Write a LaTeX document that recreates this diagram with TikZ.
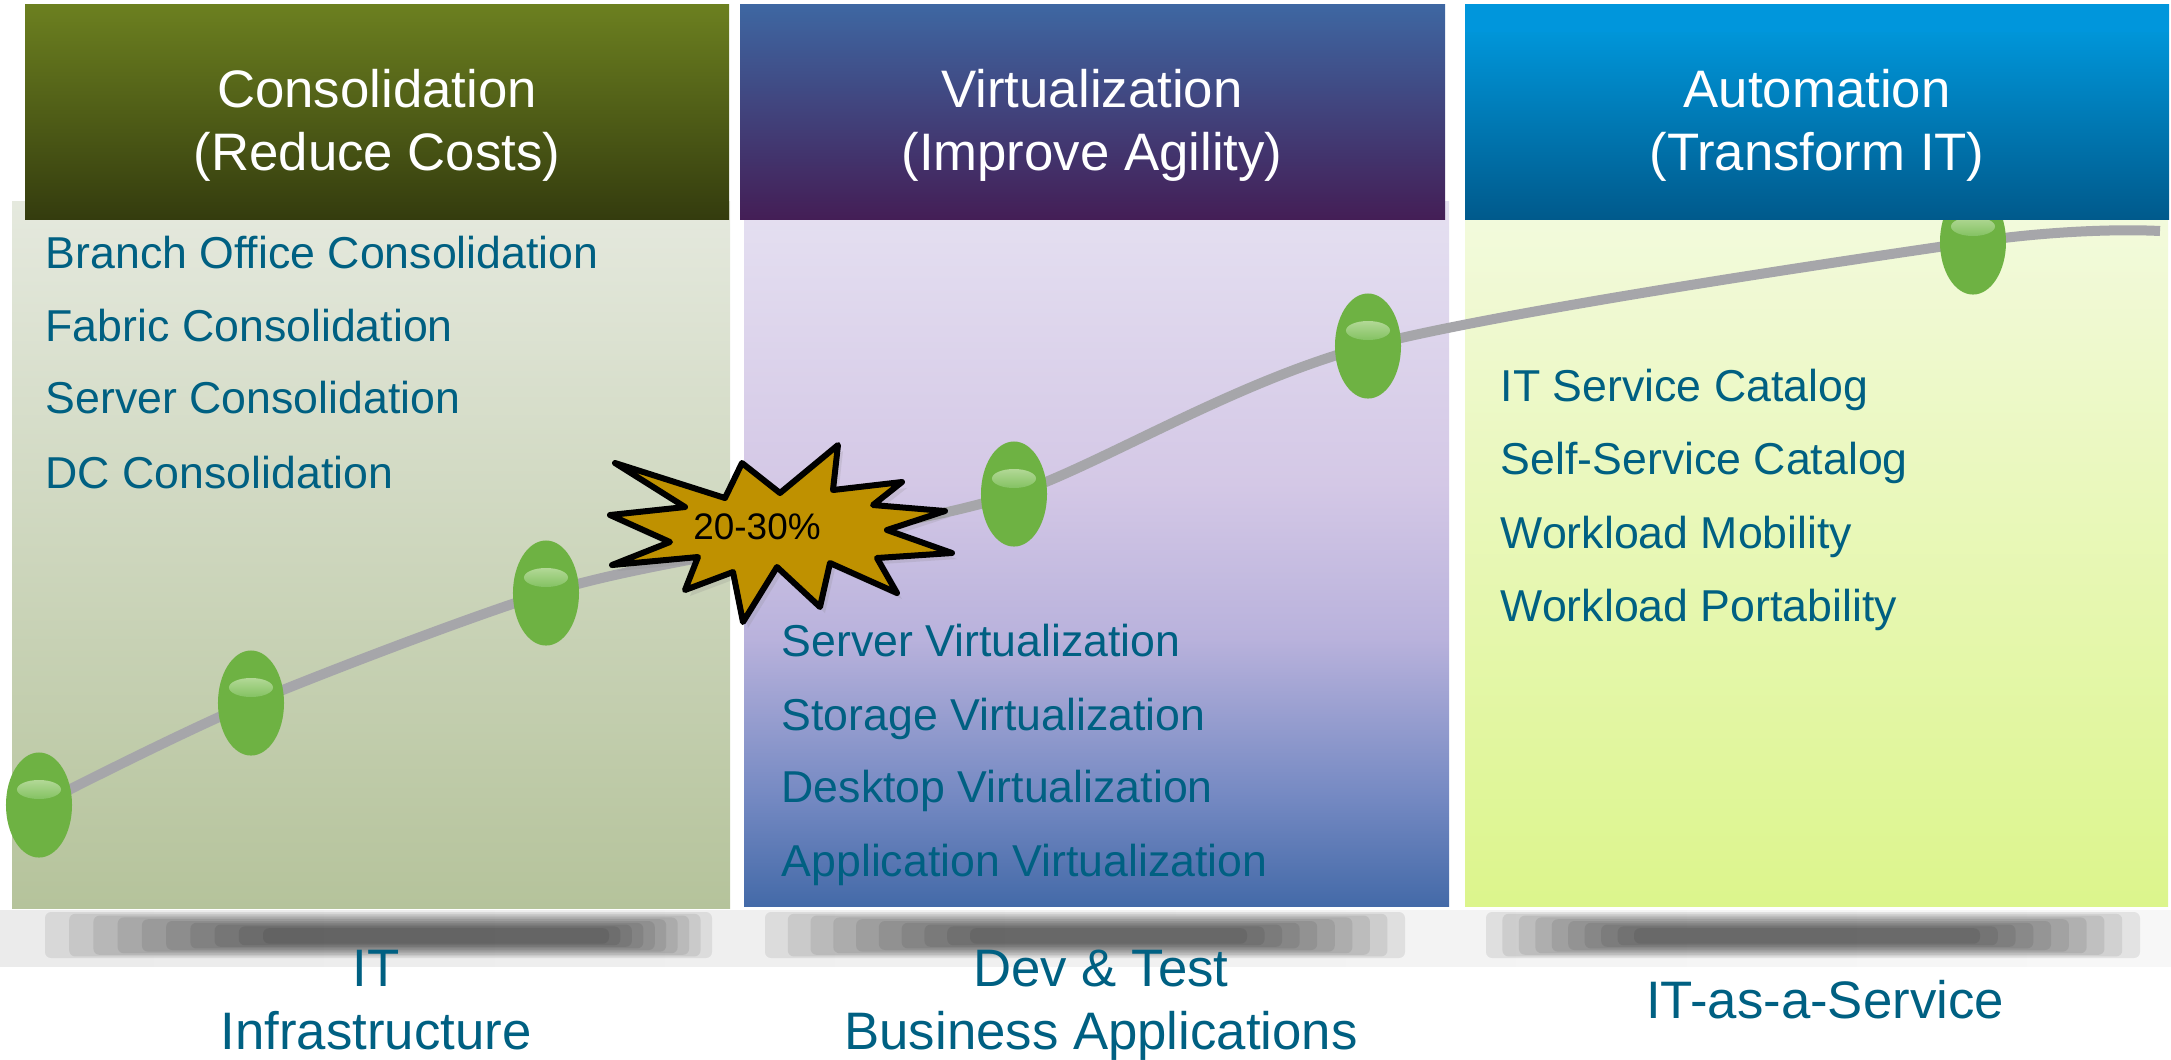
\documentclass[tikz,border=0pt]{standalone}
\usepackage{fontspec}
\setmainfont{Liberation Sans}
\usetikzlibrary{shapes.geometric,shadows}

\definecolor{txtblue}{RGB}{0,96,130}
\definecolor{curvegray}{RGB}{166,166,170}
\definecolor{beadgreen}{RGB}{110,178,67}
\definecolor{beadlightA}{RGB}{178,216,150}
\definecolor{beadlightB}{RGB}{132,194,98}
\definecolor{burstgold}{RGB}{191,145,0}
% headers
\definecolor{consTop}{RGB}{108,128,32}
\definecolor{consMid}{RGB}{92,108,27}
\definecolor{consBot}{RGB}{52,60,14}
\definecolor{virtTop}{RGB}{62,103,162}
\definecolor{virtMid}{RGB}{62,78,138}
\definecolor{virtBot}{RGB}{68,30,86}
\definecolor{autoTop}{RGB}{0,158,228}
\definecolor{autoMid}{RGB}{0,128,194}
\definecolor{autoBot}{RGB}{0,90,140}
\definecolor{autoBand}{RGB}{0,150,220}
% panels
\definecolor{consPanTop}{RGB}{229,233,222}
\definecolor{consPanBot}{RGB}{181,195,155}
\definecolor{virtA}{RGB}{229,224,241}
\definecolor{virtB}{RGB}{212,200,230}
\definecolor{virtC}{RGB}{185,178,220}
\definecolor{virtD}{RGB}{118,138,195}
\definecolor{virtE}{RGB}{68,106,168}
\definecolor{autoPanTop}{RGB}{243,250,222}
\definecolor{autoPanBot}{RGB}{220,245,140}

\pgfdeclareverticalshading{virtshade}{100bp}{color(0bp)=(virtE); color(25bp)=(virtE); color(33bp)=(virtD); color(44bp)=(virtC); color(55bp)=(virtB); color(75bp)=(virtA); color(100bp)=(virtA)}

\begin{document}
\begin{tikzpicture}[
	x=0.01cm, y=-0.01cm,
	headtext/.style={
		text=white,
		align=center,
		inner sep=0pt,
		font=\fontsize{15}{18}\selectfont
	},
	item/.style={
		text=txtblue,
		anchor=base west,
		inner sep=0pt,
		font=\fontsize{12.7}{15}\selectfont
	},
	foottext/.style={
		text=txtblue,
		align=center,
		inner sep=0pt,
		font=\fontsize{15}{17.8}\selectfont
	},
	curve/.style={
		draw=curvegray,
		line width=0.1cm
	},
	bead/.style={
		ellipse,
		fill=beadgreen,
		inner sep=0pt,
		minimum width=0.66cm,
		minimum height=1.05cm
	},
	beadshine/.style={
		top color=beadlightA,
		bottom color=beadlightB
	},
	burst/.style={
		fill=burstgold,
		draw=black,
		line width=0.06cm,
		line join=round,
		drop shadow={opacity=0.18, shadow xshift=0.05cm, shadow yshift=-0.06cm}
	},
]

\useasboundingbox (0,0) rectangle (2171,1059);

%% Panels %%
\shade[top color=consPanTop, bottom color=consPanBot] (12,201) rectangle (730,908);
\shade[shading=virtshade] (744,201) rectangle (1449,906);
\shade[top color=autoPanTop, bottom color=autoPanBot] (1465,201) rectangle (2168,906);

%% Floor shadows %%
\fill[left color=black!8, right color=black!3] (0,910) rectangle (2171,966);
\foreach \xa/\xb/\xc/\xd in {45/712/263/609, 765/1405/970/1247, 1486/2140/1634/1980}{
	\foreach \k in {0,...,9}{
		\fill[black, opacity=0.08, rounded corners=0.06cm] ({\xa+\k*(\xc-\xa)/9}, {912+\k*1.8}) rectangle ({\xb-\k*(\xb-\xd)/9}, {958-\k*1.6});
	}
}

%% Growth curve %%
\coordinate (p1) at (39,805);
\coordinate (p2) at (251,703);
\coordinate (p3) at (546,593);
\coordinate (p4) at (760,546);
\coordinate (p5) at (1014,494);
\coordinate (p6) at (1368,346);
\coordinate (p7) at (1973,242);
\coordinate (p8) at (2160,231);
\draw[curve] plot[smooth, tension=0.5] coordinates {(p1) (p2) (p3) (p4) (p5) (p6) (p7) (p8)};

% beads %
\foreach \i in {1,2,3,5,6,7}{
	\node[bead] (b\i) at (p\i) {};
	\shade[beadshine] ([yshift=0.155cm]b\i.center) ellipse [x radius=0.22cm, y radius=0.095cm];
}

%% Starburst %%
\filldraw[burst] (615,463) -- (725,498) -- (742,463) -- (780,493) -- (838,445) -- (833,490)
	-- (902,482) -- (873,505) -- (945,511) -- (887,530) -- (952,553) -- (877,558)
	-- (897,593) -- (830,563) -- (820,607) -- (777,567) -- (743,622) -- (733,572)
	-- (685,590) -- (698,557) -- (612,565) -- (670,542) -- (610,515) -- (685,507) -- cycle;
\node[inner sep=0pt, font=\fontsize{10.5}{12}\selectfont] (pct) at (757,527) {20-30\%};

%% Headers %%
\shade[top color=consTop, middle color=consMid, bottom color=consBot] (25,4) rectangle (729,219);
\shade[top color=virtTop, middle color=virtMid, bottom color=virtBot] (740,4) rectangle (1445,219);
\shade[top color=autoTop, middle color=autoMid, bottom color=autoBot] (1465,4) rectangle (2169,219);
\fill[autoBand] (1465,4) rectangle (2169,32);

\node[headtext] (hcons) at (377,125) {Consolidation\\(Reduce Costs)};
\node[headtext] (hvirt) at (1092,125) {Virtualization\\(Improve Agility)};
\node[headtext] (hauto) at (1817,125) {Automation\\(Transform IT)};

%% Lists %%
% consolidation %
\node[item] (c1) at (45,268) {Branch Office Consolidation};
\node[item] (c2) at (45,341) {Fabric Consolidation};
\node[item] (c3) at (45,413) {Server Consolidation};
\node[item] (c4) at (45,488) {DC Consolidation};

% virtualization %
\node[item] (v1) at (781,656) {Server Virtualization};
\node[item] (v2) at (781,730) {Storage Virtualization};
\node[item] (v3) at (781,802) {Desktop Virtualization};
\node[item] (v4) at (781,876) {Application Virtualization};

% automation %
\node[item] (a1) at (1500,401) {IT Service Catalog};
\node[item] (a2) at (1500,474) {Self-Service Catalog};
\node[item] (a3) at (1500,548) {Workload Mobility};
\node[item] (a4) at (1500,621) {Workload Portability};

%% Footer labels %%
\node[foottext] (fcons) at (376,1000) {IT\\Infrastructure};
\node[foottext] (fvirt) at (1101,1005) {Dev \& Test\\Business Applications};
\node[foottext] (fauto) at (1825,1000) {IT-as-a-Service};

\end{tikzpicture}
\end{document}
